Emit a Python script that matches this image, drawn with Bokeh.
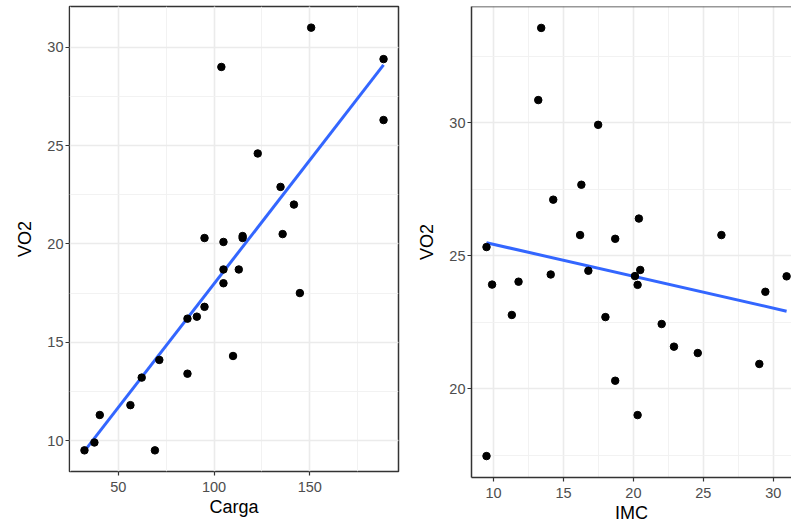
import numpy as np
from bokeh.plotting import figure
from bokeh.layouts import row
from bokeh.models import Range1d, SingleIntervalTicker, Span
from bokeh.embed import file_html
from bokeh.resources import INLINE

# ---- data ----
carga = [150.7, 188.5, 103.8, 188.5, 122.8, 134.7, 141.7, 95.0, 104.9, 114.9,
         114.9, 135.8, 104.9, 112.9, 104.9, 144.8, 95.0, 91.0, 86.1, 109.9,
         71.4, 86.1, 62.2, 56.3, 40.3, 37.5, 32.3, 69.1]
vo2_carga = [31.0, 29.4, 29.0, 26.3, 24.6, 22.9, 22.0, 20.3, 20.1, 20.3,
             20.4, 20.5, 18.7, 18.7, 18.0, 17.5, 16.8, 16.3, 16.2, 14.3,
             14.1, 13.4, 13.2, 11.8, 11.3, 9.9, 9.5, 9.5]

imc = [13.41, 13.20, 17.48, 16.28, 14.27, 20.39, 16.19, 18.70, 26.29, 9.50,
       14.09, 9.90, 11.79, 16.78, 20.49, 20.11, 20.30, 30.95, 29.43, 11.31,
       18.0, 22.02, 22.90, 24.60, 29.0, 18.70, 20.30, 9.50]
vo2_imc = [33.56, 30.85, 29.92, 27.67, 27.11, 26.40, 25.78, 25.64, 25.78, 25.33,
           24.30, 23.92, 24.03, 24.44, 24.47, 24.24, 23.91, 24.23, 23.65, 22.78,
           22.70, 22.44, 21.59, 21.35, 20.94, 20.31, 19.02, 17.48]

FONT = "Liberation Sans"
BORDER = "#333333"
GRID = "#EBEBEB"


def expand(vals, f=0.05):
    lo, hi = min(vals), max(vals)
    d = (hi - lo) * f
    return lo - d, hi + d


def style(p, xint, yint, xlabel, ylabel):
    p.background_fill_color = "white"
    p.border_fill_color = "white"
    p.xaxis.ticker = SingleIntervalTicker(interval=xint, num_minor_ticks=2)
    p.yaxis.ticker = SingleIntervalTicker(interval=yint, num_minor_ticks=2)
    p.xgrid.ticker = p.xaxis.ticker
    p.ygrid.ticker = p.yaxis.ticker
    for g in (p.xgrid, p.ygrid):
        g.grid_line_color = GRID
        g.grid_line_width = 1.6
        g.minor_grid_line_color = "#F0F0F0"
        g.minor_grid_line_width = 0.9
    for ax in (p.xaxis, p.yaxis):
        ax.major_label_text_font = FONT
        ax.major_label_text_font_size = "14.5px"
        ax.major_label_text_color = "#4D4D4D"
        ax.axis_label_text_font = FONT
        ax.axis_label_text_font_size = "18px"
        ax.axis_label_text_font_style = "normal"
        ax.axis_label_text_color = "black"
        ax.major_tick_line_color = BORDER
        ax.major_tick_line_width = 1.2
        ax.major_tick_out = 4
        ax.major_tick_in = 0
        ax.minor_tick_line_color = None
    p.xaxis.axis_label = xlabel
    p.yaxis.axis_label = ylabel
    p.xaxis.major_label_standoff = 6
    p.yaxis.major_label_standoff = 2
    p.xaxis.axis_label_standoff = 2
    p.yaxis.axis_label_standoff = 9


# ---- left panel ----
xl = expand(carga)
yl = expand(vo2_carga)
p1 = figure(width=403, height=521, output_backend="svg", toolbar_location=None,
            x_range=Range1d(*xl), y_range=Range1d(*yl),
            min_border_left=69, min_border_right=5, min_border_top=6,
            min_border_bottom=50)
style(p1, 50, 5, "Carga", "VO2")
p1.outline_line_color = BORDER
p1.outline_line_width = 1.5
p1.xaxis.axis_line_color = None
p1.yaxis.axis_line_color = None
b1, a1 = np.polyfit(carga, vo2_carga, 1)
fx1 = np.array([min(carga), max(carga)])
p1.line(fx1, a1 + b1 * fx1, line_color="#3366FF", line_width=3)
p1.scatter(carga, vo2_carga, size=7.5, color="black")

# ---- right panel ----
xr = expand(imc)
yr = expand(vo2_imc)
p2 = figure(width=388, height=527, output_backend="svg", toolbar_location=None,
            x_range=Range1d(xr[0], 31.3), y_range=Range1d(*yr),
            min_border_left=68, min_border_right=0, min_border_top=6,
            min_border_bottom=50)
style(p2, 5, 5, "IMC", "VO2")
p2.outline_line_color = None
p2.xaxis.axis_line_color = BORDER
p2.xaxis.axis_line_width = 1.5
p2.yaxis.axis_line_color = BORDER
p2.yaxis.axis_line_width = 1.5
p2.add_layout(Span(location=yr[1], dimension="width", line_color=BORDER, line_width=1.5))
b2, a2 = np.polyfit(imc, vo2_imc, 1)
fx2 = np.array([min(imc), max(imc)])
p2.line(fx2, a2 + b2 * fx2, line_color="#3366FF", line_width=3)
p2.scatter(imc, vo2_imc, size=7.5, color="black")

layout = row(p1, p2)
open("out.html", "w").write(file_html(layout, INLINE))
